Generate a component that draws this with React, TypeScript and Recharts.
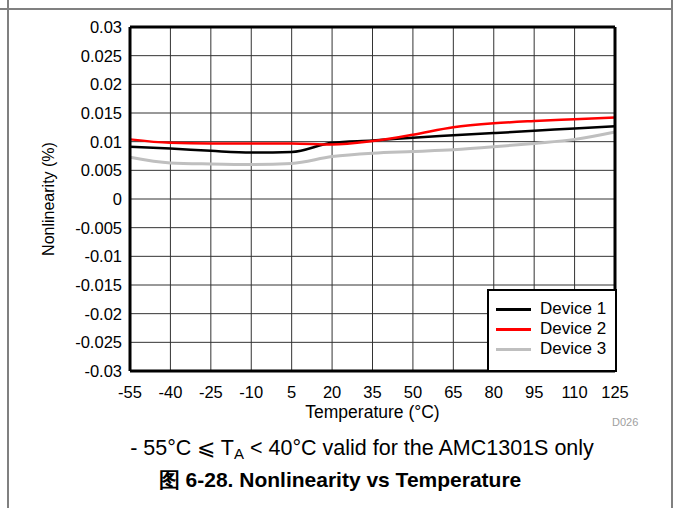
import { LineChart, Line, XAxis, YAxis, CartesianGrid, ReferenceLine, Legend } from 'recharts';

const temps = [-55, -40, -25, -10, 5, 20, 35, 50, 65, 80, 95, 110, 125];
const device1 = [0.0091, 0.0088, 0.0084, 0.0081, 0.0082, 0.0098, 0.0102, 0.0107, 0.0111, 0.0115, 0.0119, 0.0123, 0.0127];
const device2 = [0.0104, 0.0098, 0.0097, 0.0097, 0.0097, 0.0095, 0.0101, 0.0112, 0.0125, 0.0132, 0.0136, 0.0139, 0.0142];
const device3 = [0.0073, 0.0063, 0.0061, 0.006, 0.0062, 0.0074, 0.008, 0.0083, 0.0086, 0.0091, 0.0097, 0.0104, 0.0117];
const yTicks = [0.03, 0.025, 0.02, 0.015, 0.01, 0.005, 0, -0.005, -0.01, -0.015, -0.02, -0.025, -0.03];

const series = [
  { key: 'd1', name: 'Device 1', color: '#000000', width: 2.5 },
  { key: 'd2', name: 'Device 2', color: '#ff0000', width: 2.5 },
  { key: 'd3', name: 'Device 3', color: '#bfbfbf', width: 3 },
];

const data = temps.map((t, i) => ({ t, d1: device1[i], d2: device2[i], d3: device3[i] }));

const font = 'Arial, "Liberation Sans", sans-serif';

function LegendBox() {
  return (
    <div style={{ boxSizing: 'border-box', width: 130, height: 83, border: '2.5px solid #000', background: '#fff', padding: '8px 0 0 7px' }}>
      {series.map(s => (
        <div key={s.key} style={{ display: 'flex', alignItems: 'center', height: 20 }}>
          <div style={{ width: 35, height: 3, background: s.color, marginRight: 9 }} />
          <span style={{ fontFamily: font, fontSize: 17, color: '#000' }}>{s.name}</span>
        </div>
      ))}
    </div>
  );
}

export default function App() {
  return (
    <div style={{ position: 'absolute', left: 0, top: 0, width: 674, height: 508, background: '#fff', fontFamily: font }}>
      {/* page frame */}
      <div style={{ position: 'absolute', left: 0, top: 8, width: 673, height: 2, background: '#808080' }} />
      <div style={{ position: 'absolute', left: 7, top: 0, width: 2, height: 508, background: '#808080' }} />
      <div style={{ position: 'absolute', left: 671, top: 0, width: 2, height: 508, background: '#808080' }} />

      <div style={{ position: 'absolute', left: 0, top: 0 }}>
        <LineChart width={674} height={508} data={data} margin={{ top: 27, right: 59, bottom: 97, left: 70 }}>
          <CartesianGrid stroke="#333" strokeWidth={1} />
          <XAxis
            dataKey="t"
            type="number"
            domain={[-55, 125]}
            ticks={temps}
            height={40}
            axisLine={false}
            tickLine={false}
            tickSize={0}
            tickMargin={15}
            tick={{ fill: '#000', fontSize: 16.5, fontFamily: font }}
            interval={0}
          />
          <YAxis
            type="number"
            domain={[-0.03, 0.03]}
            ticks={yTicks}
            width={60}
            axisLine={false}
            tickLine={false}
            tickSize={0}
            tickMargin={8}
            tick={{ fill: '#000', fontSize: 16.5, fontFamily: font }}
            tickFormatter={(v: number) => String(v)}
            interval={0}
          />
          {series.map(s => (
            <Line
              key={s.key}
              type="monotone"
              dataKey={s.key}
              name={s.name}
              stroke={s.color}
              strokeWidth={s.width}
              dot={false}
              isAnimationActive={false}
            />
          ))}
          <ReferenceLine x={-55} stroke="#000" strokeWidth={3} />
          <ReferenceLine x={125} stroke="#000" strokeWidth={3} />
          <ReferenceLine y={0.03} stroke="#000" strokeWidth={3} />
          <ReferenceLine y={-0.03} stroke="#000" strokeWidth={3} />
          <Legend
            layout="vertical"
            align="center"
            verticalAlign="middle"
            content={() => <LegendBox />}
            wrapperStyle={{ left: 487, top: 289, width: 130, height: 83 }}
          />
        </LineChart>
      </div>

      <div style={{ position: 'absolute', left: 12, top: 199, width: 0, height: 0 }}>
        <div style={{ position: 'absolute', transform: 'translate(-50%, -50%) rotate(-90deg)', left: 37, whiteSpace: 'nowrap', fontSize: 16, color: '#000' }}>
          Nonlinearity (%)
        </div>
      </div>
      <div style={{ position: 'absolute', left: 130, width: 485, top: 402, textAlign: 'center', fontSize: 17.5, color: '#000', lineHeight: '20px' }}>
        Temperature (°C)
      </div>
      <div style={{ position: 'absolute', left: 612, top: 416, fontSize: 11, color: '#a0a0a0' }}>D026</div>

      <div style={{ position: 'absolute', left: 0, width: 724, top: 435, textAlign: 'center', fontSize: 21.5, color: '#000', whiteSpace: 'nowrap', lineHeight: '26px' }}>
        - 55°C ⩽ T<sub style={{ fontSize: 15, verticalAlign: -4, lineHeight: 0 }}>A</sub> &lt; 40°C valid for the AMC1301S only
      </div>
      <div style={{ position: 'absolute', left: 0, width: 680, top: 468, textAlign: 'center', fontSize: 21, fontWeight: 'bold', color: '#000', whiteSpace: 'nowrap', lineHeight: '24px' }}>
        图 6-28. Nonlinearity vs Temperature
      </div>
    </div>
  );
}
